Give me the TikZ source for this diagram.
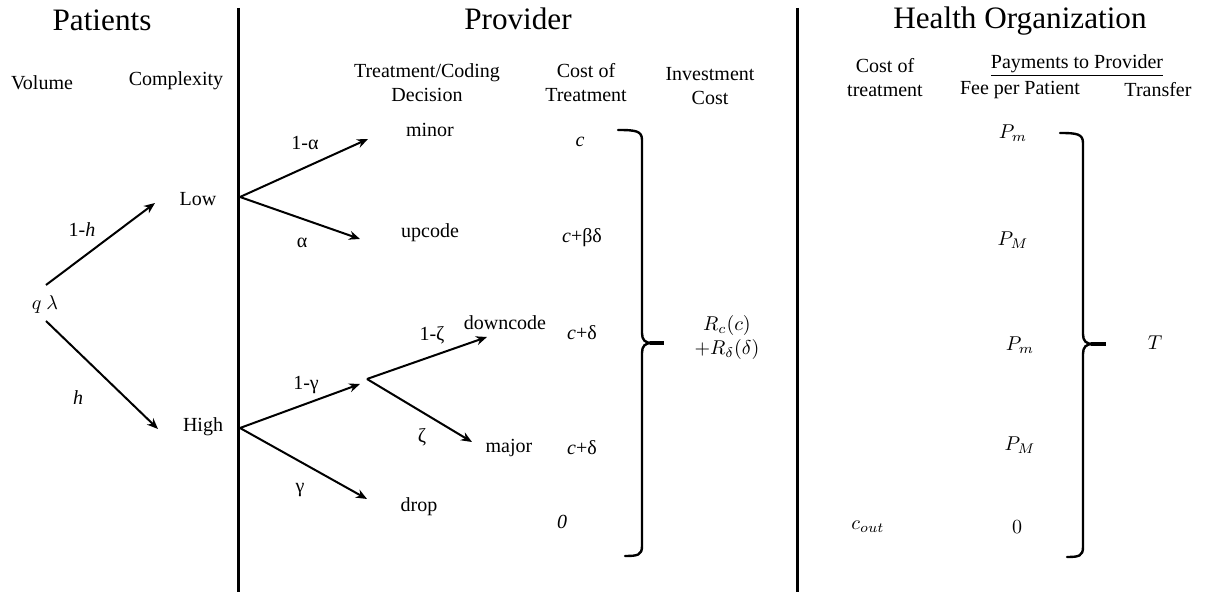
\documentclass[tikz,border=0pt]{standalone}
\usepackage{fontspec}
\setmainfont{Liberation Serif}
\usepackage{amsmath}
\usetikzlibrary{arrows.meta}

\tikzset{
  arr/.style={line width=1pt,-{Stealth[length=5.5pt,width=4.5pt]}},
  txt/.style={inner sep=0pt,font=\fontsize{10}{12}\selectfont,align=center},
  title/.style={inner sep=0pt,font=\fontsize{15.6}{18}\selectfont},
  divider/.style={line width=1.5pt},
  curly/.style={line width=1.2pt,line cap=round}
}

\begin{document}
\begin{tikzpicture}[x=0.5pt,y=-0.5pt]
        \useasboundingbox (0,0) rectangle (1212,592);
        % section titles and dividers
        \node[title] (patients) at (102,20) {Patients};
        \node[title] (provider) at (518,19) {Provider};
        \node[title] (healthorg) at (1020,21) {Health Organization};
        \draw[divider] (238,8) -- (238,592);
        \draw[divider] (797,8) -- (797,592);

        % patients
        \node[txt] (volume) at (42,83) {Volume};
        \node[txt] (complexity) at (176,81) {Complexity};
        \node[txt] (ql) at (45,305) {$q\ \lambda$};
        \node[txt] (low) at (198,199) {Low};
        \node[txt] (high) at (203,427) {High};
        \coordinate (qlup) at (46,285);
        \coordinate (qldown) at (46,321);
        \coordinate (lowin) at (155,203);
        \coordinate (highin) at (158,429);
        \draw[arr] (qlup) -- (lowin);
        \draw[arr] (qldown) -- (highin);
        \node[txt] (p1h) at (82,230) {1-\textit{h}};
        \node[txt] (ph) at (78,398) {\textit{h}};

        % provider
        \node[txt] (decision) at (427,83) {Treatment/Coding\\Decision};
        \node[txt] (costtreat) at (586,83) {Cost of\\Treatment};
        \node[txt] (invest) at (710,86) {Investment\\Cost};
        \node[txt] (minor) at (430,130) {minor};
        \node[txt] (upcode) at (430,233) {upcode};
        \node[txt] (downcode) at (505,323) {downcode};
        \node[txt] (major) at (509,448) {major};
        \node[txt] (drop) at (419,507) {drop};
        \coordinate (lowfork) at (240,197);
        \coordinate (highfork) at (240,428);
        \coordinate (zetafork) at (367,379);
        \coordinate (minorin) at (368,139);
        \coordinate (upcodein) at (360,239);
        \coordinate (zetain) at (360,384);
        \coordinate (dropin) at (367,499);
        \coordinate (downin) at (487,337);
        \coordinate (majorin) at (472,442);
        \draw[arr] (lowfork) -- (minorin);
        \draw[arr] (lowfork) -- (upcodein);
        \draw[arr] (highfork) -- (zetain);
        \draw[arr] (highfork) -- (dropin);
        \draw[arr] (zetafork) -- (downin);
        \draw[arr] (zetafork) -- (majorin);
        \node[txt] (p1a) at (305,143) {1-α};
        \node[txt] (pa) at (302,243) {α};
        \node[txt] (p1g) at (306,385) {1-γ};
        \node[txt] (pg) at (300,490) {γ};
        \node[txt] (p1z) at (432,335) {1-ζ};
        \node[txt] (pz) at (422,437) {ζ};
        \node[txt] (cminor) at (580,142) {\textit{c}};
        \node[txt] (cupcode) at (582,238) {\textit{c}+βδ};
        \node[txt] (cdown) at (582,333) {\textit{c}+δ};
        \node[txt] (cmajor) at (582,448) {\textit{c}+δ};
        \node[txt] (cdrop) at (562,522) {\textit{0}};
        \node[txt] (rinvest) at (727,338) {$R_c(c)$\\$+R_\delta(\delta)$};
        \draw[curly] (618,130) .. controls (636,130) and (642,131) .. (642,140) -- (642,333)
          .. controls (642,340) and (645,343) .. (652,343)
          .. controls (645,343) and (642,346) .. (642,353) -- (642,546)
          .. controls (642,555) and (638,556) .. (625,556);
        \draw[line width=1.6pt] (650,343) -- (664,343);

        % health organization
        \node[txt] (hocost) at (885,78) {Cost of\\treatment};
        \node[txt] (payments) at (1077,66) {\underline{Payments to Provider}};
        \node[txt] (fee) at (1020,90) {Fee per Patient};
        \node[txt] (transfer) at (1158,90) {Transfer};
        \node[txt] (pm1) at (1013,133) {$P_m$};
        \node[txt] (pM1) at (1013,240) {$P_M$};
        \node[txt] (pm2) at (1020,345) {$P_m$};
        \node[txt] (pM2) at (1020,445) {$P_M$};
        \node[txt] (zero) at (1017,527) {$0$};
        \node[txt] (cout) at (868,527) {$c_{out}$};
        \node[txt] (tpay) at (1155,343) {$T$};
        \draw[curly] (1060,133) .. controls (1077,133) and (1083,134) .. (1083,143) -- (1083,334)
          .. controls (1083,341) and (1086,344) .. (1093,344)
          .. controls (1086,344) and (1083,347) .. (1083,354) -- (1083,547)
          .. controls (1083,556) and (1079,557) .. (1067,557);
        \draw[line width=1.6pt] (1091,344) -- (1106,344);
\end{tikzpicture}
\end{document}
